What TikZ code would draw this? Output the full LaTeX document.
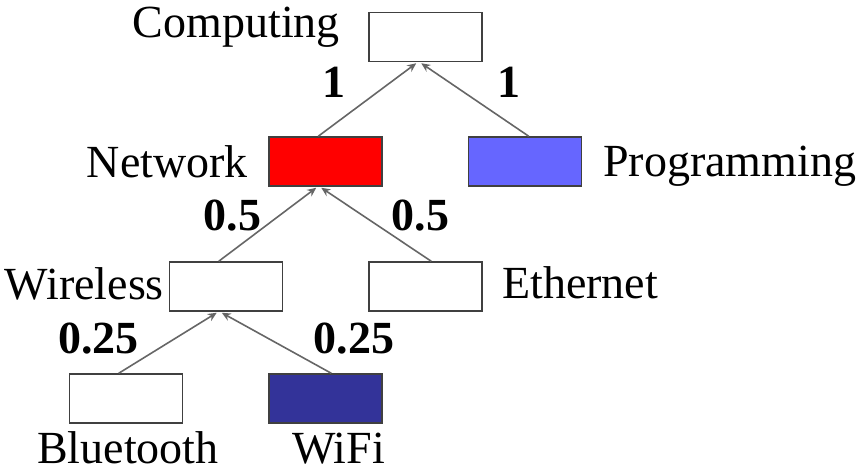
\documentclass[tikz,border=0pt]{standalone}
\usepackage{fontspec}
\setmainfont{Liberation Serif}
\usetikzlibrary{arrows.meta,calc}
\definecolor{boxline}{HTML}{404040}
\definecolor{arrowgray}{HTML}{666666}
\definecolor{netred}{HTML}{FF0000}
\definecolor{proglight}{HTML}{6666FF}
\definecolor{wifidark}{HTML}{333399}
\tikzset{
  catbox/.style={draw=boxline,line width=1.5pt,minimum width=113pt,minimum height=49pt,inner sep=0pt,fill=white},
  catname/.style={inner sep=0pt,font=\fontsize{46}{50}\selectfont},
  weight/.style={inner sep=0pt,anchor=base,font=\fontsize{46}{50}\selectfont\bfseries},
  edge/.style={draw=arrowgray,line width=1.6pt,-{Stealth[length=9pt,width=8pt]}}
}
\begin{document}
\begin{tikzpicture}[x=1pt,y=-1pt]
\useasboundingbox (0,0) rectangle (861,472);
% boxes
\node[catbox] (comp) at (425.5,37) {};
\node[catbox,fill=netred] (net) at (325.5,161.5) {};
\node[catbox,fill=proglight] (prog) at (525,161.5) {};
\node[catbox] (wire) at (226,286.5) {};
\node[catbox] (eth) at (425.5,286.5) {};
\node[catbox] (blue) at (126,398.5) {};
\node[catbox,fill=wifidark] (wifi) at (325.5,398.5) {};
% names
\node[catname,anchor=base east] (tcomp) at (340,37) {Computing};
\node[catname,anchor=base east] (tnet) at (248,177) {Network};
\node[catname,anchor=base west] (tprog) at (603,176) {Programming};
\node[catname,anchor=base east] (twire) at (164,299) {Wireless};
\node[catname,anchor=base west] (teth) at (502,298) {Ethernet};
\node[catname,anchor=base west] (tblue) at (37,463) {Bluetooth};
\node[catname,anchor=base west] (twifi) at (292,463) {WiFi};
% edges
\draw[edge] ($(net.north west)+(50,0)$) -- ($(comp.south west)+(48,1)$);
\draw[edge] ($(prog.north west)+(61,0)$) -- ($(comp.south west)+(53,1)$);
\draw[edge] ($(wire.north west)+(50,0)$) -- ($(net.south west)+(48,1)$);
\draw[edge] ($(eth.north west)+(63,0)$) -- ($(net.south west)+(53,1)$);
\draw[edge] ($(blue.north west)+(50,0)$) -- ($(wire.south west)+(48,1)$);
\draw[edge] ($(wifi.north west)+(63,0)$) -- ($(wire.south west)+(53,1)$);
% weights
\node[weight] (w1) at (333.5,97) {1};
\node[weight] (w2) at (508.5,97) {1};
\node[weight] (w3) at (232.5,230) {0.5};
\node[weight] (w4) at (420.5,230) {0.5};
\node[weight] (w5) at (98.5,353) {0.25};
\node[weight] (w6) at (354,353) {0.25};
\end{tikzpicture}
\end{document}
